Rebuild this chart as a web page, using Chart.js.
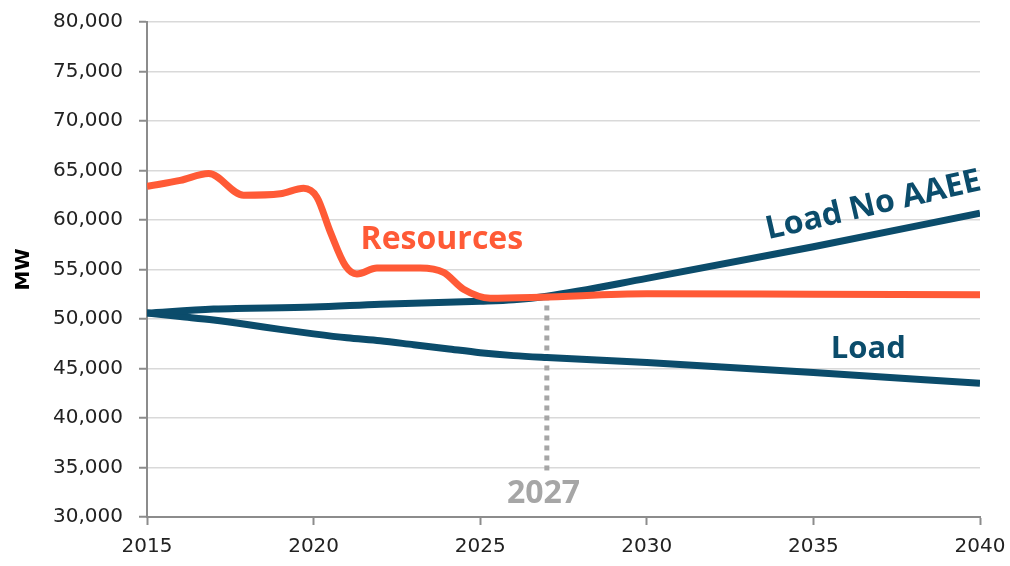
<!DOCTYPE html>
<html>
<head>
<meta charset="utf-8">
<script src="https://cdn.jsdelivr.net/npm/chart.js@4.4.1/dist/chart.umd.min.js"></script>
<style>
  html, body { margin: 0; padding: 0; background: #fff; }
  #wrap { width: 1010px; height: 566px; }
</style>
</head>
<body>
<div id="wrap"><canvas id="chart"></canvas></div>
<script>
// Resources (orange)
const resYears = [2015, 2016, 2016.85, 2017.9, 2019, 2019.7, 2020.1, 2020.5, 2020.95, 2021.3, 2021.9, 2023.2, 2023.9, 2024.5, 2025.3, 2026.8, 2030, 2035, 2040]
const resValues = [63400, 64000, 64700, 62500, 62650, 63200, 62300, 58800, 55400, 54550, 55150, 55150, 54700, 53000, 52100, 52200, 52550, 52500, 52450]

// Load No AAEE
const noAaeeYears = [2015, 2017, 2020, 2022, 2025, 2026, 2027, 2030, 2035, 2040]
const noAaeeValues = [50600, 51000, 51200, 51500, 51800, 51950, 52300, 54100, 57300, 60700]

// Load
const loadYears = [2015, 2016, 2017, 2018, 2019, 2020, 2021, 2022, 2023, 2024, 2025, 2026, 2027, 2030, 2035, 2040]
const loadValues = [50600, 50250, 49900, 49450, 48950, 48500, 48100, 47800, 47400, 47000, 46600, 46300, 46100, 45600, 44600, 43500]

// 2027 marker
const markerYears = [2027, 2027]
const markerValues = [34700, 52300]

const xTicks = [2015, 2020, 2025, 2030, 2035, 2040]

const toPoints = (xs, ys) => xs.map((x, i) => ({ x: x, y: ys[i] }))

const ORANGE = '#FF5A36'
const NAVY = '#0B4C6B'
const GREY = '#A6A6A6'

// text labels on the plot
const labelsPlugin = {
    id: 'labels',
    afterDatasetsDraw(chart) {
        const { ctx, scales: { x, y } } = chart
        ctx.save()
        ctx.textAlign = 'center'
        ctx.textBaseline = 'middle'

        ctx.fillStyle = ORANGE
        ctx.font = 'bold 32px "Open Sans"'
        ctx.fillText('Resources', x.getPixelForValue(2023.85), y.getPixelForValue(57950))

        ctx.fillStyle = NAVY
        ctx.font = 'bold 31px "Open Sans"'
        ctx.fillText('Load', x.getPixelForValue(2036.65), y.getPixelForValue(46950))

        ctx.save()
        ctx.font = 'bold 32px "Open Sans"'
        ctx.translate(x.getPixelForValue(2036.8), y.getPixelForValue(61450))
        ctx.rotate(-13 * Math.PI / 180)
        ctx.fillText('Load No AAEE', 0, 0)
        ctx.restore()

        ctx.fillStyle = GREY
        ctx.font = 'bold 32px "Open Sans"'
        ctx.fillText('2027', x.getPixelForValue(2026.9), y.getPixelForValue(32300))
        ctx.restore()
    }
}

new Chart(document.getElementById('chart'), {
    type: 'line',
    data: {
        datasets: [
            {
                label: 'Resources',
                data: toPoints(resYears, resValues),
                borderColor: ORANGE,
                borderWidth: 7,
                cubicInterpolationMode: 'monotone',
                pointRadius: 0,
                fill: false
            },
            {
                label: 'Load No AAEE',
                data: toPoints(noAaeeYears, noAaeeValues),
                borderColor: NAVY,
                borderWidth: 7,
                cubicInterpolationMode: 'monotone',
                pointRadius: 0,
                fill: false
            },
            {
                label: 'Load',
                data: toPoints(loadYears, loadValues),
                borderColor: NAVY,
                borderWidth: 7,
                cubicInterpolationMode: 'monotone',
                pointRadius: 0,
                fill: false
            },
            {
                label: '2027',
                data: toPoints(markerYears, markerValues),
                borderColor: GREY,
                borderWidth: 5,
                borderDash: [5, 5],
                pointRadius: 0,
                fill: false
            }
        ]
    },
    options: {
        responsive: true,
        maintainAspectRatio: false,
        animation: false,
        layout: { padding: { left: 0, right: 30, top: 22, bottom: 0 } },
        plugins: {
            legend: { display: false },
            tooltip: { enabled: false }
        },
        scales: {
            x: {
                type: 'linear',
                min: 2015,
                max: 2040,
                afterBuildTicks: scale => { scale.ticks = xTicks.map(v => ({ value: v })) },
                afterFit: scale => {
                    scale.height = 49
                    scale.paddingLeft = 0
                    scale.paddingRight = 0
                },
                border: { color: '#8c8c8c', width: 2 },
                grid: { drawOnChartArea: false, tickColor: '#8c8c8c', tickLength: 8, tickWidth: 2 },
                ticks: {
                    color: '#222',
                    padding: 10,
                    maxRotation: 0,
                    font: { family: 'DejaVu Sans', size: 20 },
                    callback: v => String(v)
                }
            },
            y: {
                min: 30000,
                max: 80000,
                afterFit: scale => {
                    scale.width = 147
                    scale.paddingTop = 0
                    scale.paddingBottom = 0
                },
                border: { color: '#8c8c8c', width: 2 },
                grid: { color: '#d9d9d9', lineWidth: 1.5, tickColor: '#8c8c8c', tickLength: 8, tickWidth: 2 },
                ticks: {
                    stepSize: 5000,
                    color: '#222',
                    padding: 16,
                    font: { family: 'DejaVu Sans', size: 20 },
                    callback: v => v.toLocaleString('en-US')
                },
                title: {
                    display: true,
                    text: 'MW',
                    color: '#000',
                    padding: { top: 12, bottom: 0 },
                    font: { family: 'DejaVu Sans', size: 20, weight: 'bold' }
                }
            }
        }
    },
    plugins: [labelsPlugin]
});
</script>
</body>
</html>
